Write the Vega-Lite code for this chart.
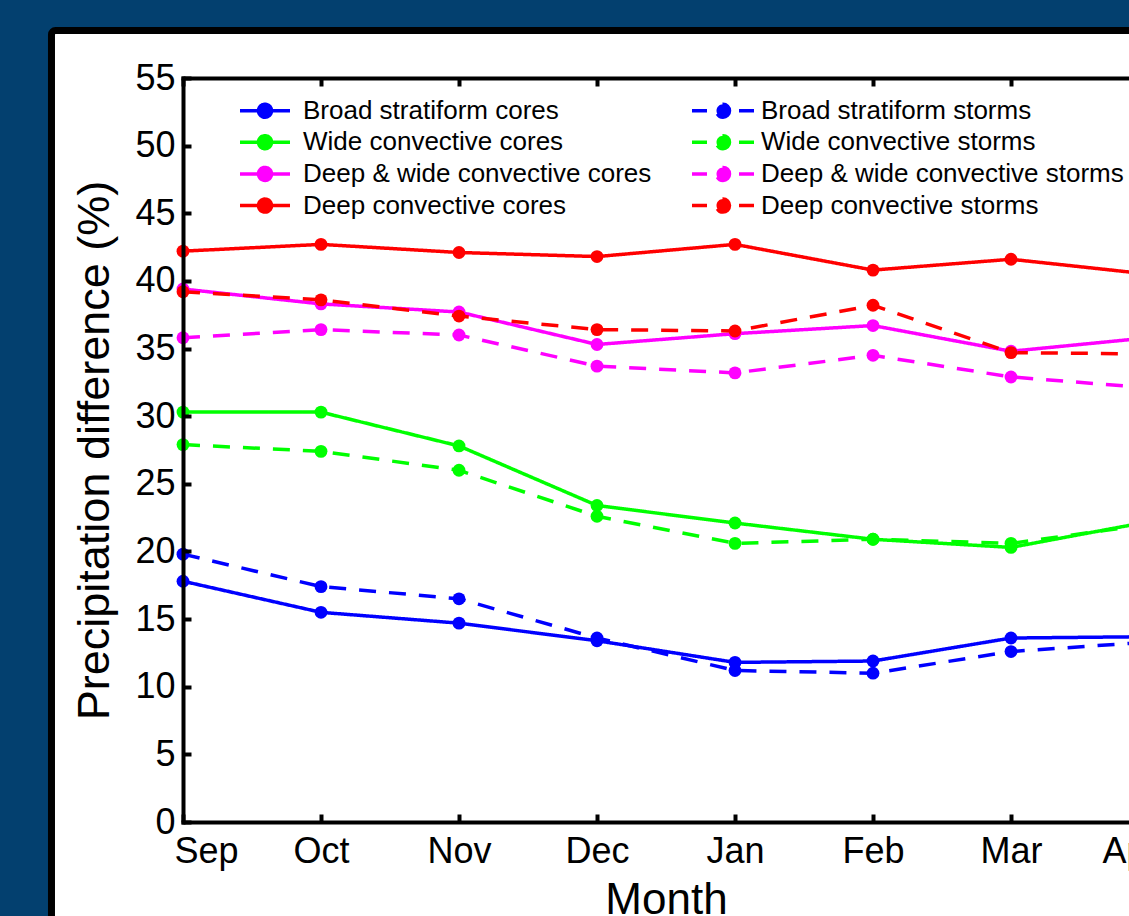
{
  "$schema": "https://vega.github.io/schema/vega-lite/v6.json",
  "autosize": "none",
  "padding": {"left": 183, "top": 78, "right": 0, "bottom": 94},
  "width": 966,
  "height": 744,
  "background": "#03406f",
  "config": {"font": "Liberation Sans", "view": {"stroke": null}},
  "data": {"values": [
    {"i":0,"month":"Sep","series":"Broad stratiform cores","value":17.8},
    {"i":1,"month":"Oct","series":"Broad stratiform cores","value":15.5},
    {"i":2,"month":"Nov","series":"Broad stratiform cores","value":14.7},
    {"i":3,"month":"Dec","series":"Broad stratiform cores","value":13.4},
    {"i":4,"month":"Jan","series":"Broad stratiform cores","value":11.8},
    {"i":5,"month":"Feb","series":"Broad stratiform cores","value":11.9},
    {"i":6,"month":"Mar","series":"Broad stratiform cores","value":13.6},
    {"i":7,"month":"Apr","series":"Broad stratiform cores","value":13.7},
    {"i":0,"month":"Sep","series":"Broad stratiform storms","value":19.8},
    {"i":1,"month":"Oct","series":"Broad stratiform storms","value":17.4},
    {"i":2,"month":"Nov","series":"Broad stratiform storms","value":16.5},
    {"i":3,"month":"Dec","series":"Broad stratiform storms","value":13.6},
    {"i":4,"month":"Jan","series":"Broad stratiform storms","value":11.2},
    {"i":5,"month":"Feb","series":"Broad stratiform storms","value":11.0},
    {"i":6,"month":"Mar","series":"Broad stratiform storms","value":12.6},
    {"i":7,"month":"Apr","series":"Broad stratiform storms","value":13.3},
    {"i":0,"month":"Sep","series":"Wide convective cores","value":30.3},
    {"i":1,"month":"Oct","series":"Wide convective cores","value":30.3},
    {"i":2,"month":"Nov","series":"Wide convective cores","value":27.8},
    {"i":3,"month":"Dec","series":"Wide convective cores","value":23.4},
    {"i":4,"month":"Jan","series":"Wide convective cores","value":22.1},
    {"i":5,"month":"Feb","series":"Wide convective cores","value":20.9},
    {"i":6,"month":"Mar","series":"Wide convective cores","value":20.3},
    {"i":7,"month":"Apr","series":"Wide convective cores","value":22.2},
    {"i":0,"month":"Sep","series":"Wide convective storms","value":27.9},
    {"i":1,"month":"Oct","series":"Wide convective storms","value":27.4},
    {"i":2,"month":"Nov","series":"Wide convective storms","value":26.0},
    {"i":3,"month":"Dec","series":"Wide convective storms","value":22.6},
    {"i":4,"month":"Jan","series":"Wide convective storms","value":20.6},
    {"i":5,"month":"Feb","series":"Wide convective storms","value":20.9},
    {"i":6,"month":"Mar","series":"Wide convective storms","value":20.6},
    {"i":7,"month":"Apr","series":"Wide convective storms","value":22.0},
    {"i":0,"month":"Sep","series":"Deep & wide convective cores","value":39.4},
    {"i":1,"month":"Oct","series":"Deep & wide convective cores","value":38.3},
    {"i":2,"month":"Nov","series":"Deep & wide convective cores","value":37.7},
    {"i":3,"month":"Dec","series":"Deep & wide convective cores","value":35.3},
    {"i":4,"month":"Jan","series":"Deep & wide convective cores","value":36.1},
    {"i":5,"month":"Feb","series":"Deep & wide convective cores","value":36.7},
    {"i":6,"month":"Mar","series":"Deep & wide convective cores","value":34.8},
    {"i":7,"month":"Apr","series":"Deep & wide convective cores","value":35.8},
    {"i":0,"month":"Sep","series":"Deep & wide convective storms","value":35.8},
    {"i":1,"month":"Oct","series":"Deep & wide convective storms","value":36.4},
    {"i":2,"month":"Nov","series":"Deep & wide convective storms","value":36.0},
    {"i":3,"month":"Dec","series":"Deep & wide convective storms","value":33.7},
    {"i":4,"month":"Jan","series":"Deep & wide convective storms","value":33.2},
    {"i":5,"month":"Feb","series":"Deep & wide convective storms","value":34.5},
    {"i":6,"month":"Mar","series":"Deep & wide convective storms","value":32.9},
    {"i":7,"month":"Apr","series":"Deep & wide convective storms","value":32.1},
    {"i":0,"month":"Sep","series":"Deep convective cores","value":42.2},
    {"i":1,"month":"Oct","series":"Deep convective cores","value":42.7},
    {"i":2,"month":"Nov","series":"Deep convective cores","value":42.1},
    {"i":3,"month":"Dec","series":"Deep convective cores","value":41.8},
    {"i":4,"month":"Jan","series":"Deep convective cores","value":42.7},
    {"i":5,"month":"Feb","series":"Deep convective cores","value":40.8},
    {"i":6,"month":"Mar","series":"Deep convective cores","value":41.6},
    {"i":7,"month":"Apr","series":"Deep convective cores","value":40.5},
    {"i":0,"month":"Sep","series":"Deep convective storms","value":39.2},
    {"i":1,"month":"Oct","series":"Deep convective storms","value":38.6},
    {"i":2,"month":"Nov","series":"Deep convective storms","value":37.4},
    {"i":3,"month":"Dec","series":"Deep convective storms","value":36.4},
    {"i":4,"month":"Jan","series":"Deep convective storms","value":36.3},
    {"i":5,"month":"Feb","series":"Deep convective storms","value":38.2},
    {"i":6,"month":"Mar","series":"Deep convective storms","value":34.7},
    {"i":7,"month":"Apr","series":"Deep convective storms","value":34.6}
  ]},
  "layer": [
    {
      "data": {"values": [{}]},
      "mark": {"type": "rect", "fill": "white", "stroke": "black", "strokeWidth": 7, "cornerRadius": 4, "clip": false},
      "encoding": {
        "x": {"datum": -0.953, "type": "quantitative", "scale": {"domain": [0, 7], "nice": false, "zero": false},
              "axis": {"orient": "top", "values": [0,1,2,3,4,5,6,7], "labels": false, "title": null, "grid": false,
                       "tickSize": -8, "tickWidth": 4, "tickColor": "black", "domainColor": "black", "domainWidth": 4, "domainCap": "square", "zindex": 1}},
        "x2": {"datum": 9},
        "y": {"datum": 58.51, "type": "quantitative", "scale": {"domain": [0, 55], "nice": false, "zero": false},
              "axis": {"orient": "right", "values": [0,5,10,15,20,25,30,35,40,45,50,55], "labels": false, "title": null, "grid": false,
                       "tickSize": -8, "tickWidth": 4, "tickColor": "black", "domainColor": "black", "domainWidth": 4, "domainCap": "square", "zindex": 1}},
        "y2": {"datum": -12}
      }
    },
    {
      "mark": {"type": "line", "strokeWidth": 3.5, "point": {"filled": true, "size": 165}},
      "encoding": {
        "x": {"field": "i", "type": "quantitative", "scale": {"domain": [0, 7], "nice": false, "zero": false},
              "axis": {"orient": "bottom", "values": [0,1,2,3,4,5,6,7],
                       "labelExpr": "['Sep','Oct','Nov','Dec','Jan','Feb','Mar','Apr'][datum.value]",
                       "labelFontSize": 36, "labelColor": "black", "labelPadding": 20, "labelFlush": true, "labelFlushOffset": 9, "labelOverlap": false,
                       "title": "Month", "titleFontSize": 44, "titleFontWeight": "normal", "titleColor": "black", "titlePadding": 9,
                       "grid": false, "tickSize": -8, "tickWidth": 4, "tickColor": "black", "domainColor": "black", "domainWidth": 4, "domainCap": "square", "zindex": 1}},
        "y": {"field": "value", "type": "quantitative", "scale": {"domain": [0, 55], "nice": false, "zero": false},
              "axis": {"orient": "left", "values": [0,5,10,15,20,25,30,35,40,45,50,55],
                       "labelFontSize": 36, "labelColor": "black", "labelPadding": 16,
                       "title": "Precipitation difference (%)", "titleFontSize": 45, "titleFontWeight": "normal", "titleColor": "black", "titlePadding": 17,
                       "grid": false, "tickSize": -8, "tickWidth": 4, "tickColor": "black", "domainColor": "black", "domainWidth": 4, "domainCap": "square", "zindex": 1}},
        "color": {"field": "series", "type": "nominal",
                  "scale": {"domain": ["Broad stratiform cores","Wide convective cores","Deep & wide convective cores","Deep convective cores","Broad stratiform storms","Wide convective storms","Deep & wide convective storms","Deep convective storms"],
                            "range": ["#0000ff","#00ff00","#ff00ff","#ff0000","#0000ff","#00ff00","#ff00ff","#ff0000"]},
                  "legend": {"orient": "none", "legendX": 69, "legendY": 19.5, "columns": 2, "columnPadding": 33, "rowPadding": 3.7,
                             "padding": 0, "title": null, "symbolSize": 400, "symbolStrokeWidth": 3.5,
                             "symbolType": "M-3.1,0H3.1",
                             "labelFontSize": 26, "labelColor": "black", "labelOffset": 25, "labelLimit": 700,
                             "encode": {"symbols": {"update": {
                               "fill": {"scale": "color", "field": "value"},
                               "stroke": {"scale": "color", "field": "value"},
                               "shape": {"signal": "indexof(datum.value, 'storms') >= 0 ? 'M-3.1,0H-1.6M1.6,0H3.1M0.65,0A0.65,0.65 0 1,1 -0.65,0A0.65,0.65 0 1,1 0.65,0Z' : 'M-2.5,0H2.5M0.65,0A0.65,0.65 0 1,1 -0.65,0A0.65,0.65 0 1,1 0.65,0Z'"},
                               "strokeDash": {"signal": "[]"}
                             }}}}},
        "strokeDash": {"field": "series", "type": "nominal",
                       "scale": {"domain": ["Broad stratiform cores","Wide convective cores","Deep & wide convective cores","Deep convective cores","Broad stratiform storms","Wide convective storms","Deep & wide convective storms","Deep convective storms"],
                                 "range": [[1,0],[1,0],[1,0],[1,0],[17,13],[17,13],[17,13],[17,13]]},
                       "legend": null}
      }
    }
  ],
  "resolve": {"axis": {"x": "independent", "y": "independent"}}
}
